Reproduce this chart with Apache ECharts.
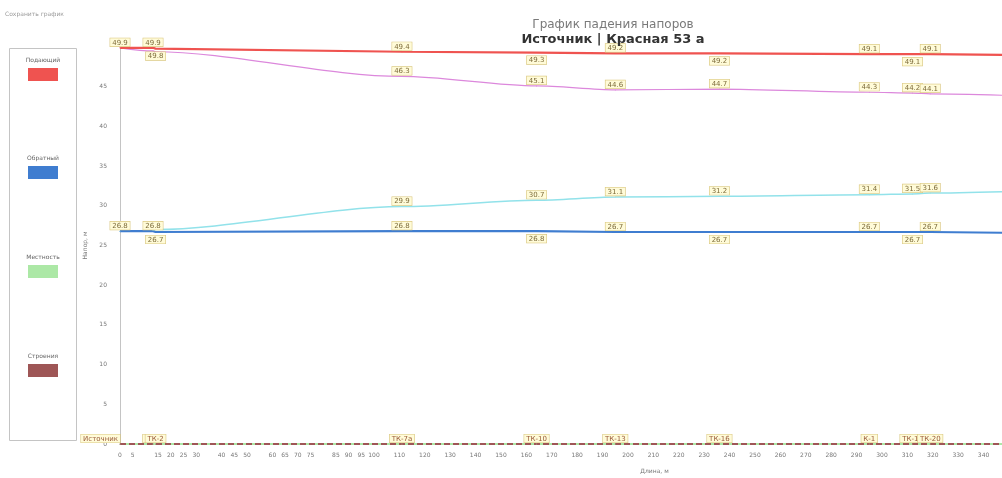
<!DOCTYPE html>
<html>
<head>
<meta charset="utf-8">
<script src="https://cdn.jsdelivr.net/npm/echarts@6/dist/echarts.min.js"></script>
<style>
  html, body { margin: 0; padding: 0; background: #fff; }
  #chart { width: 1002px; height: 478px; }
</style>
</head>
<body>
<div id="chart"></div>
<script>
// Трасса: узлы и расстояния от источника, м
const nodeNames = ['Источник', 'ТК-1', 'ТК-2', 'ТК-7а', 'ТК-10', 'ТК-13', 'ТК-16', 'К-1', 'ТК-17', 'ТК-20', ''];
const distances = [0, 13, 14, 111, 164, 195, 236, 295, 312, 319, 350];

// Напоры, м
const supplyHead    = [49.9, 49.9, 49.8, 49.4, 49.3, 49.2, 49.2, 49.1, 49.1, 49.1, 49.0];
const supplyPiezo   = [49.9, 49.5, 49.4, 46.3, 45.1, 44.6, 44.7, 44.3, 44.2, 44.1, 43.9];
const returnHead    = [26.8, 26.8, 26.7, 26.8, 26.8, 26.7, 26.7, 26.7, 26.7, 26.7, 26.6];
const returnPiezo   = [26.8, 26.9, 27.0, 29.9, 30.7, 31.1, 31.2, 31.4, 31.5, 31.6, 31.8];
const terrainLevel  = [0, 0, 0, 0, 0, 0, 0, 0, 0, 0, 0];
const buildingLevel = [0, 0, 0, 0, 0, 0, 0, 0, 0, 0, 0];

// Подписи оси длины
const xTickLabels = [0, 5, 15, 20, 25, 30, 40, 45, 50, 60, 65, 70, 75, 85, 90, 95,
  100, 110, 120, 130, 140, 150, 160, 170, 180, 190, 200, 210, 220, 230, 240, 250,
  260, 270, 280, 290, 300, 310, 320, 330, 340, 350];

const legendNames = ['Подающий', 'Обратный', 'Местность', 'Строения'];
const colors = {
  supply: '#ef5350',
  ret: '#3f7dd0',
  terrain: '#ace8a6',
  building: '#9e5656',
  supplyPiezo: '#dc88dc',
  returnPiezo: '#92e2ea'
};
const legendColors = [colors.supply, colors.ret, colors.terrain, colors.building];

const boxLabel = {
  fontSize: 7,
  color: '#7d6b3a',
  backgroundColor: '#fffbd8',
  borderColor: '#d9c67e',
  borderWidth: 0.6,
  padding: [1, 2, 0, 2],
  fontFamily: 'DejaVu Sans'
};

const lastIdx = distances.length - 1;

// Подписи чередуются сверху и снизу линии, чтобы не наползать друг на друга
function alternatingData(values) {
  return values.map((v, i) => ({
    value: [distances[i], v],
    label: {
      show: i !== lastIdx,
      position: (i === 0 || i % 2 === 1) ? 'top' : 'bottom',
      distance: (i === 0 || i % 2 === 1) ? 1 : 3
    }
  }));
}
function topData(values, firstShown) {
  return values.map((v, i) => ({
    value: [distances[i], v],
    label: { show: i >= firstShown && i !== lastIdx }
  }));
}

function lineSeries(name, color, width, data, extra) {
  return Object.assign({
    name: name,
    type: 'line',
    data: data,
    symbol: 'circle',
    symbolSize: 1,
    showAllSymbol: true,
    lineStyle: { color: color, width: width },
    itemStyle: { color: color },
    label: Object.assign({ show: true, position: 'top', distance: 1,
      formatter: p => p.value[1].toFixed(1) }, boxLabel),
    emphasis: { disabled: true },
    animation: false
  }, extra || {});
}

// Вертикальная легенда в рамке: подпись над цветной плашкой
const legendTop = [60, 158, 257, 356];
const legendGraphic = [
  { type: 'rect', shape: { x: 9.5, y: 48.5, width: 67, height: 392 },
    style: { fill: 'none', stroke: '#c4c4c4', lineWidth: 1 }, z: 1 }
];
legendNames.forEach((name, i) => {
  legendGraphic.push({
    type: 'text', x: 43, y: legendTop[i], z: 2,
    style: { text: name, fontSize: 6, fill: '#666', align: 'center', verticalAlign: 'middle', fontFamily: 'DejaVu Sans' }
  });
  legendGraphic.push({
    type: 'rect', shape: { x: 28, y: legendTop[i] + 8, width: 30, height: 13 }, z: 2,
    style: { fill: legendColors[i] }
  });
});

const chart = echarts.init(document.getElementById('chart'), null, { renderer: 'canvas' });

chart.setOption({
  backgroundColor: '#ffffff',
  textStyle: { fontFamily: 'DejaVu Sans' },
  title: {
    text: 'График падения напоров',
    subtext: 'Источник | Красная 53 а',
    left: 608,
    top: 14,
    textAlign: 'center',
    itemGap: 2,
    textStyle: { fontSize: 12, fontWeight: 'normal', color: '#7a7a7a', fontFamily: 'DejaVu Sans' },
    subtextStyle: { fontSize: 13, fontWeight: 'bold', color: '#333', fontFamily: 'DejaVu Sans' }
  },
  graphic: [
    { type: 'text', left: 5, top: 11, style: { text: 'Сохранить график', fontSize: 6, fill: '#9a9a9a', fontFamily: 'DejaVu Sans' } }
  ].concat(legendGraphic),
  grid: { left: 120, right: -7, top: 47, bottom: 34, outerBoundsMode: 'none', containLabel: false },
  xAxis: {
    type: 'value',
    min: 0,
    max: 350,
    name: 'Длина, м',
    nameLocation: 'middle',
    nameGap: 24,
    nameTextStyle: { fontSize: 6, color: '#777', padding: [0, 0, 0, 180] },
    axisLine: { lineStyle: { color: '#bdbdbd' } },
    axisTick: { show: false },
    splitLine: { show: false },
    axisLabel: { customValues: xTickLabels, fontSize: 6, color: '#777', margin: 8 }
  },
  yAxis: {
    type: 'value',
    min: 0,
    max: 50,
    interval: 5,
    name: 'Напор, м',
    nameLocation: 'middle',
    nameRotate: 90,
    nameGap: 31,
    nameTextStyle: { fontSize: 6, color: '#777' },
    axisLine: { show: true, lineStyle: { color: '#c4c4c4' } },
    axisTick: { show: false },
    splitLine: { show: false },
    axisLabel: { fontSize: 6, color: '#777', margin: 13, showMaxLabel: false }
  },
  series: [
    lineSeries('Местность', colors.terrain, 2, terrainLevel.map((v, i) => [distances[i], v]), { label: { show: false } }),
    lineSeries('Строения', colors.building, 2, buildingLevel.map((v, i) => ({
      value: [distances[i], v],
      label: { show: i !== lastIdx, align: i === 0 ? 'right' : 'center' }
    })), {
      label: Object.assign({ show: true, position: 'top', distance: 1,
        formatter: p => nodeNames[p.dataIndex] }, boxLabel, { color: '#9a5a3a' }),
      lineStyle: { color: colors.building, width: 2, type: [6, 3] }
    }),
    lineSeries('Напор в подающем', colors.supplyPiezo, 1.2, topData(supplyPiezo, 3), { smooth: 0.3, smoothMonotone: 'x' }),
    lineSeries('Напор в обратном', colors.returnPiezo, 1.5, topData(returnPiezo, 3), { smooth: 0.3, smoothMonotone: 'x' }),
    lineSeries('Подающий', colors.supply, 2.2, alternatingData(supplyHead)),
    lineSeries('Обратный', colors.ret, 2.2, alternatingData(returnHead))
  ]
});
</script>
</body>
</html>
